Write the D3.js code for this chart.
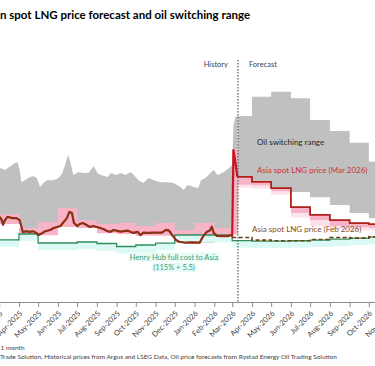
<!DOCTYPE html>
<html>
<head>
<meta charset="utf-8">
<script src="https://cdnjs.cloudflare.com/ajax/libs/d3/7.8.5/d3.min.js"></script>
<style>
body { margin: 0; background: #fff; }
svg { display: block; font-family: Lato, "Open Sans", sans-serif; }
</style>
</head>
<body>
<div id="chart"></div>
<script>
let svgWidth = 375;
let svgHeight = 366;

// History: Asia spot LNG price ($/MMBtu)
let spotDates = ["2025-03-02","2025-03-05","2025-03-07","2025-03-10","2025-03-14","2025-03-22","2025-03-28",
    "2025-04-02","2025-04-04","2025-04-07","2025-04-13","2025-04-18","2025-04-23","2025-04-29",
    "2025-05-01","2025-05-07","2025-05-12","2025-05-20","2025-05-25","2025-05-31",
    "2025-06-05","2025-06-09","2025-06-15","2025-06-19","2025-06-23","2025-06-26",
    "2025-07-01","2025-07-05","2025-07-10","2025-07-16","2025-07-21","2025-07-26",
    "2025-08-01","2025-08-06","2025-08-11","2025-08-17","2025-08-22","2025-08-27",
    "2025-09-02","2025-09-07","2025-09-18","2025-09-23","2025-09-27",
    "2025-10-04","2025-10-08","2025-10-13","2025-10-21","2025-10-28",
    "2025-11-11","2025-11-17","2025-11-22","2025-11-27",
    "2025-12-03","2025-12-08","2025-12-18","2025-12-28",
    "2026-01-09","2026-01-14","2026-01-20","2026-01-25","2026-01-28","2026-01-31",
    "2026-02-05","2026-02-14","2026-02-22","2026-02-27"];
let spotPrice = [13.0,12.5,11.8,12.5,13.0,12.8,12.8,
    12.5,11.8,10.7,10.8,10.7,10.8,10.5,
    10.2,10.5,10.8,11.0,11.3,11.45,
    11.6,12.1,12.8,13.75,13.6,12.1,
    11.6,11.9,12.05,11.75,11.45,11.6,
    11.45,11.3,11.15,10.85,10.7,11.0,
    10.85,10.75,10.9,10.7,10.55,
    10.7,10.2,10.6,10.55,10.6,
    10.6,11.0,10.9,10.2,
    9.45,9.2,9.05,9.1,
    9.05,9.95,10.7,10.9,11.5,10.55,
    10.1,10.05,10.05,10.2];

// early March 2026 price spike
let spikeDates = ["2026-03-01","2026-03-03","2026-03-05","2026-03-09"];
let spikePrice = [10.05, 23.2, 22.0, 19.1];

// History: oil switching range
let switchDates = ["2025-03-02","2025-03-10","2025-03-17","2025-03-25","2025-03-30",
    "2025-04-02","2025-04-05","2025-04-10","2025-04-18","2025-04-23","2025-04-29",
    "2025-05-04","2025-05-09","2025-05-15","2025-05-25",
    "2025-06-02","2025-06-08","2025-06-13","2025-06-17","2025-06-21","2025-06-25",
    "2025-07-03","2025-07-11","2025-07-19","2025-07-27",
    "2025-08-02","2025-08-07","2025-08-18","2025-08-23","2025-08-31",
    "2025-09-07","2025-09-15","2025-09-23","2025-09-28",
    "2025-10-05","2025-10-13","2025-10-21","2025-10-29",
    "2025-11-09","2025-11-20","2025-11-29",
    "2025-12-10","2025-12-15","2025-12-21","2025-12-31",
    "2026-01-07","2026-01-11","2026-01-18","2026-01-26","2026-01-31",
    "2026-02-06","2026-02-16","2026-02-24",
    "2026-03-01","2026-03-03","2026-03-06","2026-03-09"];
let switchHigh = [20.45,20.15,20.6,21.2,21.35,
    20.15,18.3,18.6,19.1,19.25,18.95,
    17.55,18.15,18.6,18.6,
    18.95,19.7,21.2,22.45,21.2,19.4,
    19.85,19.7,19.7,20.75,
    19.7,19.4,19.1,19.7,19.4,
    19.7,19.4,19.85,19.4,
    18.6,18.15,18.95,18.6,
    18.3,18.3,18.15,
    17.55,17.1,17.85,17.55,
    17.4,18.6,18.95,19.7,20.15,
    19.4,19.85,20.45,
    20.9,27.0,28.25,28.4];
let switchLow = [13.1,12.9,13.1,13.2,13.0,
    12.6,11.6,11.0,11.0,11.1,10.8,
    10.6,11.0,11.3,11.6,
    11.8,12.2,12.8,13.8,14.0,12.6,
    12.2,12.3,12.0,12.0,
    11.8,11.6,11.2,11.0,11.3,
    11.2,11.3,11.1,11.0,
    11.0,10.9,11.0,11.0,
    11.1,11.3,10.7,
    10.3,10.3,10.4,10.3,
    10.3,10.5,11.0,11.6,11.0,
    10.5,10.5,10.5,
    10.4,10.5,10.5,10.5];

// Monthly: Henry Hub full cost to Asia (115% + 5.5), Mar-2025 .. Oct-2026
let months = ["2025-03","2025-04","2025-05","2025-06","2025-07","2025-08","2025-09","2025-10","2025-11","2025-12",
    "2026-01","2026-02","2026-03","2026-04","2026-05","2026-06","2026-07","2026-08","2026-09","2026-10"];
let henryHub = [9.47,10.38,9.01,9.01,9.16,8.93,8.47,8.70,9.0,10.23,
    10.23,10.23,9.36,9.3,9.3,9.35,9.45,9.6,9.75,9.9];
let henryHubLow = [8.4,9.3,7.9,7.9,8.1,7.8,7.4,7.6,7.9,9.1,
    9.1,9.1,8.3,8.2,8.2,8.3,8.4,8.5,8.7,8.8];

// Monthly spot price range, Mar-2025 .. Mar-2026 (history)
let rangeHigh = [13.4,11.3,12.2,14.35,12.5,11.9,12.05,11.6,12.05,11.0,12.05,11.3,23.2];
let rangeLow = [11.9,10.2,10.2,11.45,11.3,10.5,10.4,10.1,10.1,9.0,9.0,9.9,10.3];

// Forecasts, Mar-2026 .. Oct-2026
let forecastStart = "2026-03-10";
let fcMonths = ["2026-03","2026-04","2026-05","2026-06","2026-07","2026-08","2026-09","2026-10"];
let switchHighFc = [28.4,31.35,32.1,31.1,27.8,26.1,24.3,21.4];
let switchLowFc = [19.1,18.35,17.4,16.8,16.0,14.8,13.6,12.8];
let spotMar26Fc = [19.1,18.35,17.4,14.5,13.3,12.5,12.05,11.9];
let rangeLowFc = [17.9,17.8,16.9,13.6,12.5,11.6,11.4,11.3];
let rangeOuterFc = [17.5,17.3,16.4,12.9,11.6,11.1,10.9,10.9];
let spotFeb26Fc = [9.85,9.45,9.35,9.35,9.55,9.85,9.75,9.95];

let parseDay = d3.timeParse("%Y-%m-%d");
let parseMonth = d3.timeParse("%Y-%m");
let endDate = parseMonth("2026-11");

let svg = d3.select("#chart")
    .append("svg")
    .attr("width", svgWidth)
    .attr("height", svgHeight);

let x = d3.scaleTime()
    .domain([parseMonth("2025-03"), endDate])
    .range([-0.8, 388.6]);

let y = d3.scaleLinear()
    .domain([0, 40])
    .range([302, 40]);

// monthly steps -> points with a closing point at the end
function stepPoints(starts, cols, firstStart) {
    let pts = starts.map(function (m, i) {
        let p = { date: parseMonth(m) };
        cols.forEach(function (c, k) { p["v" + k] = c[i]; });
        return p;
    });
    if (firstStart) pts[0].date = parseDay(firstStart);
    let last = Object.assign({}, pts[pts.length - 1]);
    last.date = endDate;
    pts.push(last);
    return pts;
}

let bandArea = d3.area()
    .x(d => x(d.date))
    .y0(d => y(d.v1))
    .y1(d => y(d.v0));

let stepBand = d3.area()
    .curve(d3.curveStepAfter)
    .x(d => x(d.date))
    .y0(d => y(d.v1))
    .y1(d => y(d.v0));

let stepLine = d3.line()
    .curve(d3.curveStepAfter)
    .x(d => x(d.date))
    .y(d => y(d.v0));

let plainLine = d3.line()
    .x(d => x(d.date))
    .y(d => y(d.v0));

// oil switching range - history
let switchHist = switchDates.map((d, i) => ({ date: parseDay(d), v0: switchHigh[i], v1: switchLow[i] }));
svg.append("path")
    .attr("d", bandArea(switchHist))
    .attr("fill", "#c0c0c0");

// oil switching range - forecast
svg.append("path")
    .attr("d", stepBand(stepPoints(fcMonths, [switchHighFc, switchLowFc], forecastStart)))
    .attr("fill", "#c0c0c0");

// spot price ranges
let histRangeMonths = months.slice(0, 13);
let histRange = stepPoints(histRangeMonths, [rangeHigh, rangeLow]);
histRange[histRange.length - 1].date = parseDay(forecastStart);
svg.append("path")
    .attr("d", stepBand(histRange))
    .attr("fill", "#f6b4c6");

svg.append("path")
    .attr("d", stepBand(stepPoints(fcMonths, [rangeLowFc, rangeOuterFc], forecastStart)))
    .attr("fill", "#fde2ec");

svg.append("path")
    .attr("d", stepBand(stepPoints(fcMonths, [spotMar26Fc, rangeLowFc], forecastStart)))
    .attr("fill", "#f6b4c6");

// Henry Hub band and line
let hhPts = stepPoints(months, [henryHub, henryHubLow]);
svg.append("path")
    .attr("d", stepBand(hhPts))
    .attr("fill", "#dcfaf5");

svg.append("path")
    .attr("d", stepLine(hhPts))
    .attr("fill", "none")
    .attr("stroke", "#2f8f5b")
    .attr("stroke-width", 1.3);

// Asia spot LNG price (Mar 2026): history + spike + forecast steps
let spotHist = spotDates.map((d, i) => ({ date: parseDay(d), v0: spotPrice[i] }));
let spike = spikeDates.map((d, i) => ({ date: parseDay(d), v0: spikePrice[i] }));

svg.append("path")
    .attr("d", plainLine(spotHist.concat(spike)))
    .attr("fill", "none")
    .attr("stroke", "#c4161c")
    .attr("stroke-width", 2.2)
    .attr("stroke-linejoin", "round");

let marFc = stepPoints(fcMonths, [spotMar26Fc], forecastStart);
svg.append("path")
    .attr("d", stepLine([spike[spike.length - 1]].concat(marFc)))
    .attr("fill", "none")
    .attr("stroke", "#b0201a")
    .attr("stroke-width", 1.8);

// Asia spot LNG price (Feb 2026): history solid, forecast dashed
svg.append("path")
    .attr("d", plainLine(spotHist))
    .attr("fill", "none")
    .attr("stroke", "#6e4215")
    .attr("stroke-width", 1.3)
    .attr("stroke-linejoin", "round");

svg.append("path")
    .attr("d", stepLine(stepPoints(fcMonths, [spotFeb26Fc])))
    .attr("fill", "none")
    .attr("stroke", "#6e4215")
    .attr("stroke-width", 1.6)
    .attr("stroke-dasharray", "4,2.5");

// history / forecast divider
let xSplit = x(parseDay(forecastStart));
svg.append("line")
    .attr("x1", xSplit).attr("x2", xSplit)
    .attr("y1", 60).attr("y2", 302)
    .attr("stroke", "#595959")
    .attr("stroke-width", 1.2)
    .attr("stroke-dasharray", "1.5,1.5");

svg.append("text")
    .attr("x", xSplit - 10).attr("y", 67)
    .attr("text-anchor", "end")
    .attr("font-size", "7.5px")
    .attr("fill", "#404040")
    .text("History");

svg.append("text")
    .attr("x", xSplit + 11).attr("y", 67)
    .attr("font-size", "7.5px")
    .attr("fill", "#404040")
    .text("Forecast");

// series labels
svg.append("text")
    .attr("x", 257).attr("y", 144.5)
    .attr("font-size", "8px")
    .attr("fill", "#262626")
    .text("Oil switching range");

svg.append("text")
    .attr("x", 257).attr("y", 173)
    .attr("font-size", "8px")
    .attr("fill", "#c8352e")
    .text("Asia spot LNG price (Mar 2026)");

svg.append("text")
    .attr("x", 252).attr("y", 231.5)
    .attr("font-size", "8px")
    .attr("fill", "#8a4b22")
    .text("Asia spot LNG price (Feb 2026)");

let hhLabel = svg.append("g");
["Henry Hub full cost to Asia", "(115% + 5.5)"].forEach(function (t, i) {
    let txt = hhLabel.append("text")
        .attr("x", 174).attr("y", 259.5 + i * 10.5)
        .attr("text-anchor", "middle")
        .attr("font-size", "7.5px")
        .attr("fill", "#3c9c72")
        .text(t);
    let bb = txt.node().getBBox();
    hhLabel.insert("rect", "text")
        .attr("x", bb.x - 1).attr("y", bb.y)
        .attr("width", bb.width + 2).attr("height", bb.height)
        .attr("fill", "#e8fbf8");
});

// x axis
let bottomAxis = d3.axisBottom(x)
    .ticks(d3.timeMonth.every(1))
    .tickFormat(d3.timeFormat("%b-%Y"))
    .tickSize(5)
    .tickSizeOuter(0);

let xAxis = svg.append("g")
    .attr("transform", "translate(0, 302)")
    .call(bottomAxis);

xAxis.select(".domain").attr("stroke", "#8c8c8c");
xAxis.selectAll(".tick line").attr("stroke", "#8c8c8c");
xAxis.selectAll(".tick text")
    .attr("y", 0)
    .attr("dy", "0.35em")
    .attr("transform", "translate(1.5, 10) rotate(-45)")
    .style("text-anchor", "end")
    .attr("font-family", "Lato, 'Open Sans', sans-serif")
    .attr("font-size", "7.5px")
    .attr("fill", "#404040");

// title (left part falls outside the crop)
let title = svg.append("text")
    .attr("y", 19)
    .attr("font-size", "11.5px")
    .attr("font-weight", "bold")
    .attr("fill", "#000");
title.append("tspan").attr("class", "cut").text("Asia");
title.append("tspan").text("n spot LNG price forecast and oil switching range");
let cutWidth = title.select(".cut").node().getComputedTextLength();
title.attr("x", -cutWidth);

// notes
svg.append("text")
    .attr("x", 0.5).attr("y", 349.5)
    .attr("font-size", "6.5px")
    .attr("fill", "#404040")
    .text("1 month");

svg.append("text")
    .attr("x", 0).attr("y", 359)
    .attr("font-size", "6.5px")
    .attr("fill", "#404040")
    .text("Trade Solution, Historical prices from Argus and LSEG Data, Oil price forecasts from Rystad Energy Oil Trading Solution");
</script>
</body>
</html>
